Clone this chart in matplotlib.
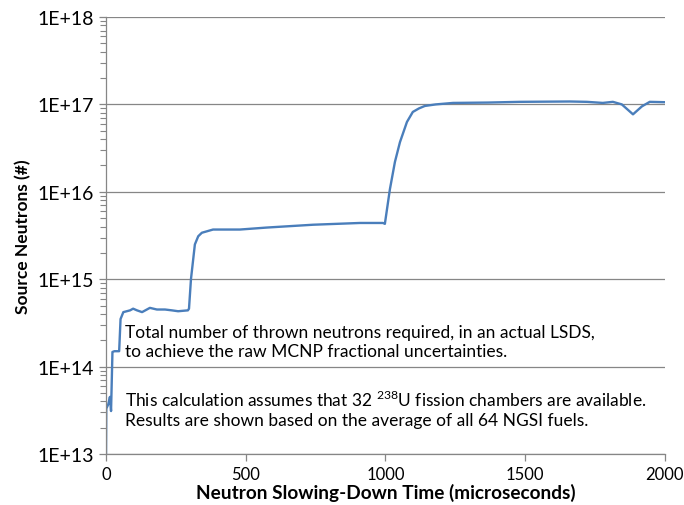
import numpy as np
import matplotlib
matplotlib.use("Agg")
import matplotlib.pyplot as plt
from matplotlib.ticker import LogLocator, NullFormatter, FixedLocator

plt.rcParams['font.family'] = ['Lato', 'DejaVu Sans']
plt.rcParams['mathtext.fontset'] = 'custom'
plt.rcParams['mathtext.rm'] = 'Lato'

# slowing-down time (microseconds) and required source neutrons
time_us = [0, 1, 8, 14, 18, 23, 30, 47, 52, 62, 86, 97, 111, 129, 157, 182,
           211, 236, 258, 293, 297, 304, 318, 330, 343, 383, 479, 576, 741,
           909, 991, 998, 1016, 1034, 1052, 1077, 1098, 1120, 1141, 1180,
           1242, 1367, 1481, 1660, 1721, 1778, 1814, 1846, 1886, 1918, 1946,
           2000]
neutrons = [1.0e13, 3.3e13, 3.7e13, 4.5e13, 3.1e13, 1.47e14, 1.5e14, 1.5e14,
            3.5e14, 4.2e14, 4.4e14, 4.6e14, 4.4e14, 4.2e14, 4.7e14, 4.5e14,
            4.5e14, 4.4e14, 4.3e14, 4.4e14, 4.6e14, 1.0e15, 2.5e15, 3.1e15,
            3.4e15, 3.7e15, 3.7e15, 3.9e15, 4.2e15, 4.4e15, 4.4e15, 4.3e15,
            1.07e16, 2.2e16, 3.7e16, 6.3e16, 8.2e16, 9.0e16, 9.6e16, 1.0e17,
            1.04e17, 1.05e17, 1.07e17, 1.08e17, 1.07e17, 1.04e17, 1.07e17,
            1.0e17, 7.7e16, 9.5e16, 1.07e17, 1.06e17]

y_ticks = [1e13, 1e14, 1e15, 1e16, 1e17, 1e18]
y_labels = ['1E+13', '1E+14', '1E+15', '1E+16', '1E+17', '1E+18']
x_ticks = [0, 500, 1000, 1500, 2000]

fig = plt.figure(figsize=(6.84, 5.06), dpi=100)
ax = fig.add_axes([0.155, 0.1008, 0.817, 0.8636])

ax.plot(time_us, neutrons, color='#4a7ebb', lw=1.7)

ax.set_yscale('log')
ax.set_ylim(1e13, 1e18)
ax.set_xlim(0, 2000)
ax.set_yticks(y_ticks)
ax.set_yticklabels(y_labels)
ax.yaxis.set_minor_locator(LogLocator(base=10, subs=np.arange(2, 10)))
ax.yaxis.set_minor_formatter(NullFormatter())
ax.xaxis.set_major_locator(FixedLocator(x_ticks))

gray = '#868686'
for side in ['top', 'right']:
    ax.spines[side].set_visible(False)
for side in ['left', 'bottom']:
    ax.spines[side].set_color(gray)
    ax.spines[side].set_linewidth(0.9)
ax.grid(axis='y', which='major', color=gray, lw=0.9)
ax.set_axisbelow(True)
ax.tick_params(axis='both', which='major', color=gray, length=5,
               labelsize=14, width=0.9)
ax.tick_params(axis='x', labelsize=12)
ax.tick_params(axis='y', which='minor', color=gray, length=4, width=0.8)

ax.set_xlabel('Neutron Slowing-Down Time (microseconds)', fontsize=13.7,
              fontweight='bold', labelpad=1)
ax.set_ylabel('Source Neutrons (#)', fontsize=12.5, fontweight='bold',
              labelpad=5)

ax.text(0.034, 0.258, 'Total number of thrown neutrons required, in an actual LSDS,\n'
        'to achieve the raw MCNP fractional uncertainties.',
        transform=ax.transAxes, fontsize=12.5, va='center', linespacing=1.25)
ax.text(0.034, 0.105, 'This calculation assumes that 32 $^{\\mathrm{238}}$U fission chambers are available.\n'
        'Results are shown based on the average of all 64 NGSI fuels.',
        transform=ax.transAxes, fontsize=12.5, va='center', linespacing=1.25)

fig.savefig('out.png', dpi=100)
